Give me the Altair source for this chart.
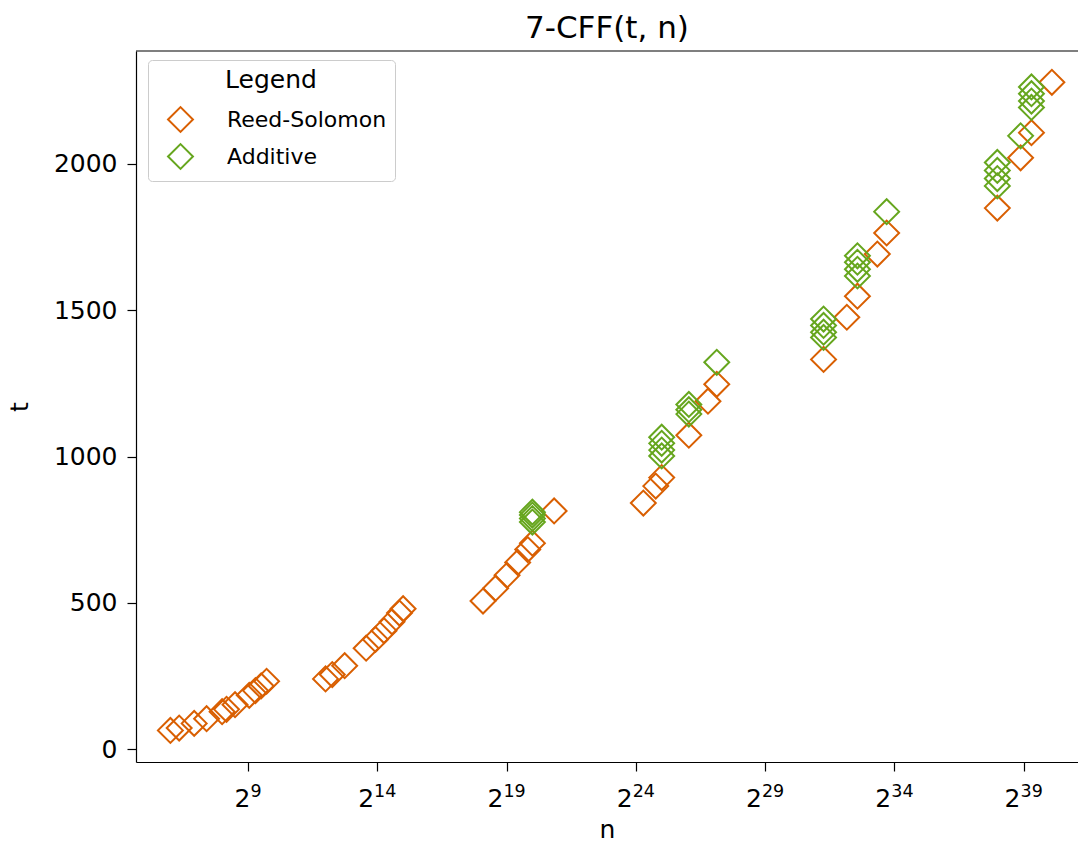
import altair as alt
import pandas as pd

# Reed-Solomon points: log2(n) and t
rs_log2n = [6.00, 6.34, 6.92, 7.40, 8.00, 8.17, 8.50, 9.05, 9.29, 9.51, 9.72,
            12.00, 12.26, 12.74, 13.57, 13.93, 14.26, 14.57, 14.86, 15.00,
            18.09, 18.58, 19.02, 19.43, 19.82, 20.00, 20.84,
            24.29, 24.77, 25.00, 26.05, 26.79, 27.13,
            31.26, 32.16, 32.57, 33.34, 33.70,
            37.98, 38.88, 39.30, 40.09]
rs_t = [64, 72, 88, 104, 128, 136, 152, 184, 200, 216, 232,
        240, 255, 285, 345, 375, 405, 435, 465, 480,
        506, 550, 594, 638, 682, 704, 814,
        841, 899, 928, 1073, 1189, 1247,
        1332, 1476, 1548, 1692, 1764,
        1849, 2021, 2107, 2279]

# Additive points
ad_log2n = [20.00, 20.00, 20.00, 20.00,
            25.00, 25.00, 25.00, 25.00,
            26.05, 26.05, 26.05,
            27.13,
            31.26, 31.26, 31.26, 31.26,
            32.57, 32.57, 32.57, 32.57,
            33.70,
            37.98, 37.98, 37.98, 37.98,
            38.88,
            39.30, 39.30, 39.30, 39.30]
ad_t = [776, 788, 800, 810,
        1002, 1022, 1045, 1066,
        1145, 1160, 1178,
        1322,
        1407, 1425, 1448, 1470,
        1617, 1640, 1664, 1686,
        1837,
        1925, 1950, 1978, 2005,
        2096,
        2193, 2215, 2240, 2263]

series = ["Reed-Solomon", "Additive"]
colors = ["#D95F02", "#66A61E"]

x_ticks = [9, 14, 19, 24, 29, 34, 39]
x_tick_exps = ["9", "14", "19", "24", "29", "34", "39"]
y_ticks = [0, 500, 1000, 1500, 2000]

df = pd.DataFrame({
    "log2n": rs_log2n + ad_log2n,
    "t": rs_t + ad_t,
    "Legend": [series[0]] * len(rs_t) + [series[1]] * len(ad_t),
    "order": list(range(len(rs_t) + len(ad_t))),
})
ticks_df = pd.DataFrame({"log2n": x_ticks, "exp": x_tick_exps})

W, H = 942, 711
FONT = "DejaVu Sans"
XDOM = [4.67, 41.1]

xscale = alt.Scale(domain=XDOM, nice=False, zero=False)
xaxis = alt.Axis(values=x_ticks, labels=False, grid=False,
                 tickSize=9, titlePadding=46, titleFontSize=25)


def xenc():
    return alt.X("log2n:Q", title="n", scale=xscale, axis=xaxis)


points = alt.Chart(df).mark_point(
    shape="diamond", filled=False, strokeWidth=2, size=620, opacity=1
).encode(
    x=xenc(),
    y=alt.Y("t:Q", title="t",
            scale=alt.Scale(domain=[-44, 2386], nice=False, zero=False),
            axis=alt.Axis(values=y_ticks, format="d", grid=False, tickSize=9,
                          labelPadding=10, titlePadding=21,
                          labelFontSize=25, titleFontSize=25)),
    color=alt.Color("Legend:N",
                    scale=alt.Scale(domain=series, range=colors),
                    legend=alt.Legend(
                        orient="none", legendX=12, legendY=9,
                        title="Legend", titleFontSize=25, titleFontWeight="normal",
                        titleAnchor="middle", titlePadding=13,
                        labelFontSize=22, labelOffset=33, symbolOffset=11,
                        symbolType="diamond", symbolSize=620,
                        symbolStrokeWidth=2, symbolFillColor="transparent",
                        rowPadding=4, padding=8,
                        strokeColor="#cccccc", fillColor="white",
                        cornerRadius=4)),
    order=alt.Order("order:Q"),
)

base = alt.Chart(ticks_df).transform_calculate(
    len="length(datum.exp)"
)
two_1 = base.transform_filter("datum.len == 1").mark_text(
    text="2", align="right", baseline="alphabetic", fontSize=25,
    font=FONT, color="black", dx=2.4
).encode(x=xenc(), y=alt.value(H + 45))
two_2 = base.transform_filter("datum.len == 2").mark_text(
    text="2", align="right", baseline="alphabetic", fontSize=25,
    font=FONT, color="black", dx=-3.2
).encode(x=xenc(), y=alt.value(H + 45))
exps = base.mark_text(
    align="center", baseline="alphabetic", fontSize=17.5,
    font=FONT, color="black", dx=8
).encode(x=xenc(), y=alt.value(H + 35), text="exp:N")

top_border = alt.Chart(pd.DataFrame({"a": [0]})).mark_rule(
    color="black", strokeWidth=1.2
).encode(x=alt.value(0), x2=alt.value(W), y=alt.value(0))

chart = alt.layer(top_border, points, two_1, two_2, exps).properties(
    width=W, height=H,
    title=alt.Title("7-CFF(t, n)", fontSize=31, fontWeight="normal",
                    font=FONT, offset=5, color="black"),
    padding={"left": 136, "top": 51, "right": 0, "bottom": 90},
    autosize=alt.AutoSizeParams(type="none"),
    background="white",
).configure_view(stroke=None).configure_axis(
    labelFont=FONT, titleFont=FONT, labelColor="black", titleColor="black",
    domainColor="black", tickColor="black", domainWidth=1.2, tickWidth=1.2,
    titleFontWeight="normal",
).configure_legend(labelFont=FONT, titleFont=FONT, labelColor="black",
                   titleColor="black")

chart.save("out.html", embed_options={"renderer": "svg", "actions": False})
